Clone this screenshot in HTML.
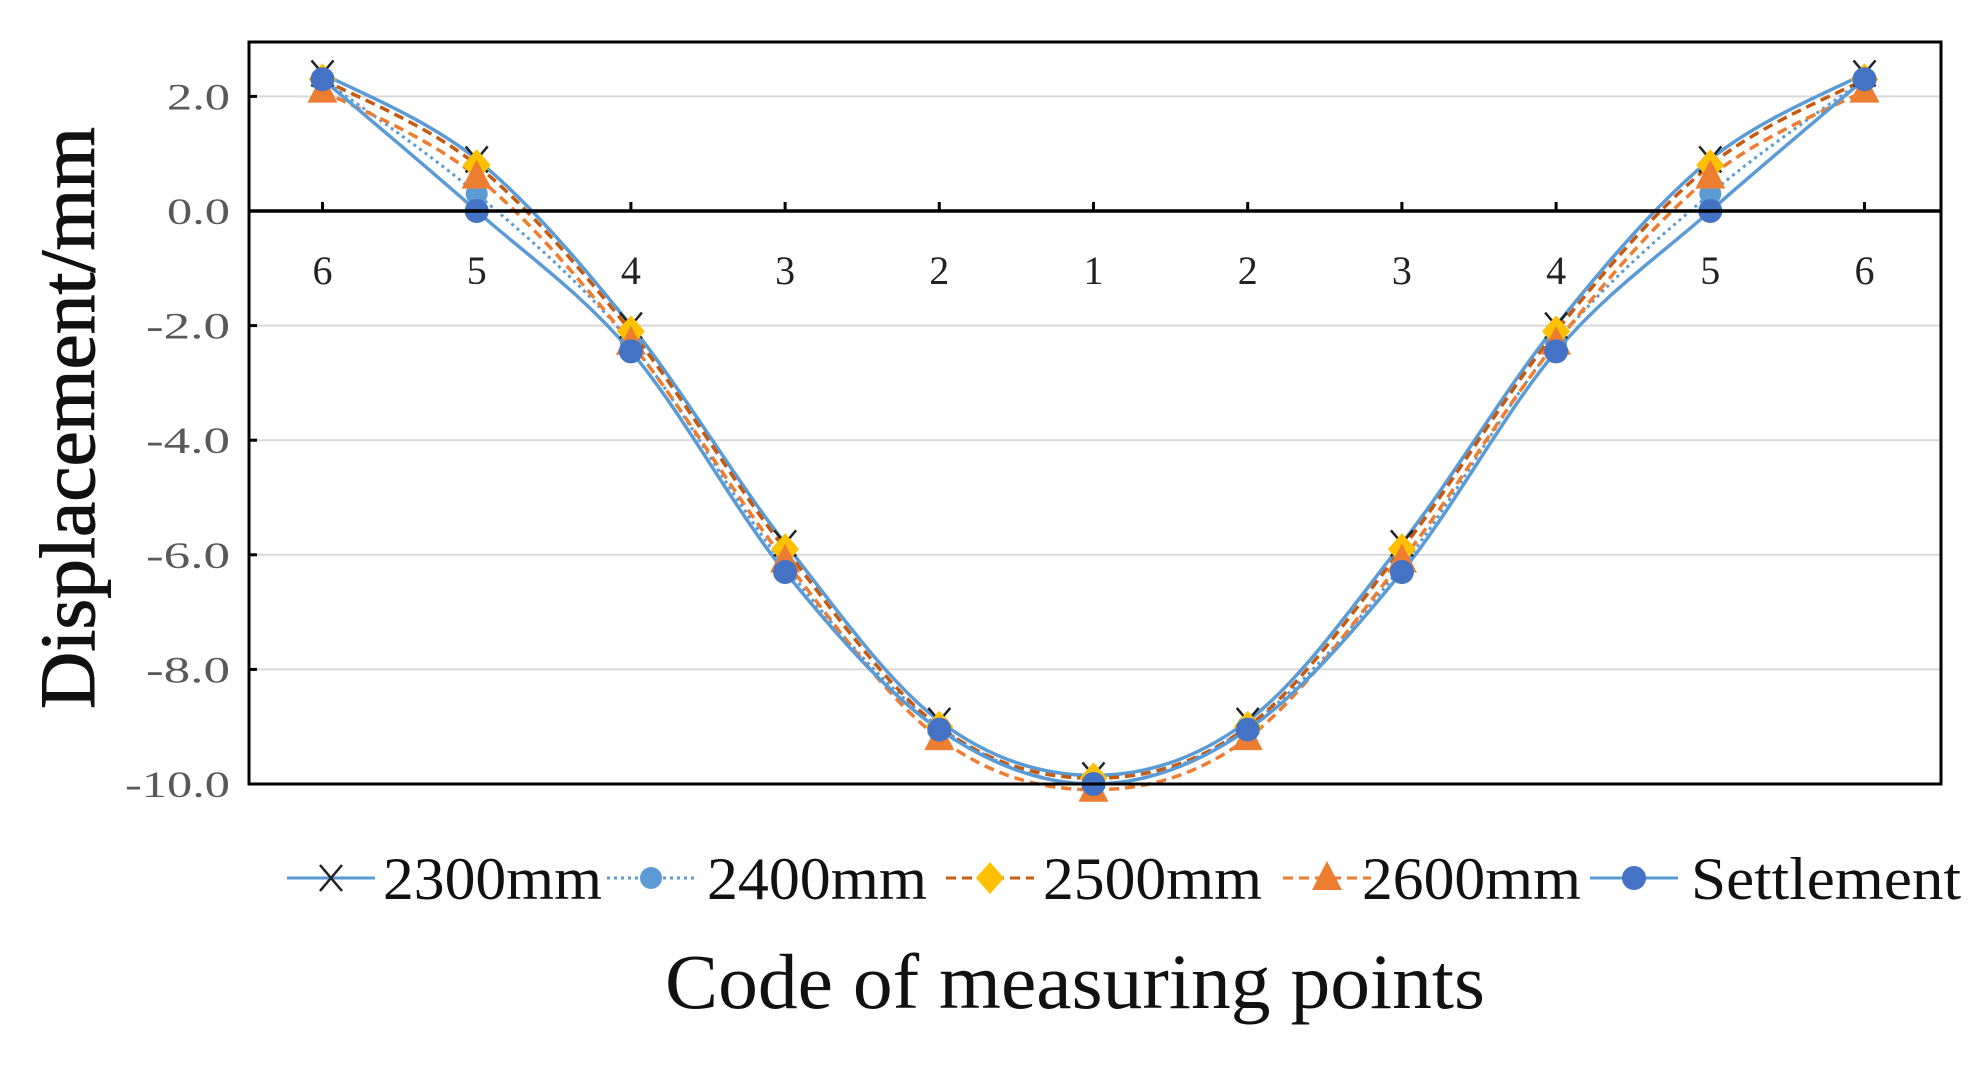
<!DOCTYPE html>
<html><head><meta charset="utf-8"><style>
html,body{margin:0;padding:0;background:#fff;}
svg{display:block;font-family:"Liberation Serif",serif;}
</style></head><body>
<svg id="s" width="1983" height="1083" viewBox="0 0 1983 1083" xmlns="http://www.w3.org/2000/svg"></svg>
<script>
const s=document.getElementById('s');
let h='';
const Y=v=>211-v*57.3, X=i=>322.5+154.2*i;
const L=249,R=1941,T=42,B=784;
[2,-2,-4,-6,-8].forEach(v=>{h+=`<line x1="${L}" x2="${R}" y1="${Y(v)}" y2="${Y(v)}" stroke="#d9d9d9" stroke-width="2"/>`;});
[2,0,-2,-4,-6,-8,-10].forEach(v=>{const t=v.toFixed(1);h+=`<text x="230" y="${Y(v)+13}" font-size="37" fill="#595959" text-anchor="end" textLength="${t.length*21}" lengthAdjust="spacingAndGlyphs">${t}</text>`;
h+=`<line x1="${L}" x2="${L+8}" y1="${Y(v)}" y2="${Y(v)}" stroke="#000" stroke-width="3"/>`;});
const codes=[6,5,4,3,2,1,2,3,4,5,6];
codes.forEach((c,i)=>{h+=`<text x="${X(i)}" y="284" font-size="40" fill="#222" text-anchor="middle">${c}</text>`;
h+=`<line x1="${X(i)}" x2="${X(i)}" y1="${Y(0)}" y2="${Y(0)-9}" stroke="#000" stroke-width="3"/>`;});
function sym(a){return a.concat(a.slice(0,5).reverse());}
const data=[
 {d:sym([2.4,0.9,-2.0,-5.8,-8.9,-9.85]),c:'#5b9bd5',dash:'',w:3.5,m:'x'},
 {d:sym([2.3,0.3,-2.3,-6.2,-9.0,-10]),c:'#5b9bd5',dash:'3,4',w:3,m:'c2'},
 {d:sym([2.3,0.8,-2.1,-5.9,-9.0,-9.9]),c:'#c55a11',dash:'10,6',w:3.5,m:'d'},
 {d:sym([2.1,0.6,-2.3,-6.1,-9.2,-10.1]),c:'#ed7d31',dash:'10,6',w:3.5,m:'t'},
 {d:sym([2.3,0.0,-2.45,-6.3,-9.05,-10.0]),c:'#5b9bd5',dash:'',w:3.5,m:'c'}
];
function path(p){let d=`M${p[0][0]},${p[0][1]}`;for(let i=0;i<p.length-1;i++){const p0=p[i-1]||p[i],p1=p[i],p2=p[i+1],p3=p[i+2]||p2;
const t=6;d+=` C${p1[0]+(p2[0]-p0[0])/t},${p1[1]+(p2[1]-p0[1])/t} ${p2[0]-(p3[0]-p1[0])/t},${p2[1]-(p3[1]-p1[1])/t} ${p2[0]},${p2[1]}`;}return d;}
function marker(m,x,y,sc){sc=sc||1;
 if(m=='x')return `<path d="M${x-11*sc},${y-13*sc}L${x+11*sc},${y+13*sc}M${x+11*sc},${y-13*sc}L${x-11*sc},${y+13*sc}" stroke="#222" stroke-width="2.5"/>`;
 if(m=='c2')return `<circle cx="${x}" cy="${y}" r="${11*sc}" fill="#5b9bd5"/>`;
 if(m=='d')return `<path d="M${x},${y-16*sc}L${x+14*sc},${y}L${x},${y+16*sc}L${x-14*sc},${y}Z" fill="#ffc000"/>`;
 if(m=='t')return `<path d="M${x},${y-17*sc}L${x+15*sc},${y+12*sc}L${x-15*sc},${y+12*sc}Z" fill="#ed7d31"/>`;
 return `<circle cx="${x}" cy="${y}" r="${12*sc}" fill="#4472c4"/>`;}
data.forEach(s=>{const p=s.d.map((v,i)=>[X(i),Y(v)]);h+=`<path d="${path(p)}" fill="none" stroke="${s.c}" stroke-width="${s.w}" ${s.dash?`stroke-dasharray="${s.dash}"`:''}/>`;});
data.forEach(s=>{s.d.forEach((v,i)=>{h+=marker(s.m,X(i),Y(v));});});
h+=`<rect x="${L}" y="${T}" width="${R-L}" height="${B-T}" fill="none" stroke="#000" stroke-width="3"/>`;
h+=`<line x1="${L}" x2="${R}" y1="${Y(0)}" y2="${Y(0)}" stroke="#000" stroke-width="3.5"/>`;
const names=['2300mm','2400mm','2500mm','2600mm','Settlement'];
const lx=[287,607,946,1283,1590];
const tx=[383,707,1043,1362,1691];
const tl=[219,220,219,219,270];
data.forEach((s,i)=>{const x=lx[i],y=878;h+=`<line x1="${x}" x2="${x+88}" y1="${y}" y2="${y}" stroke="${s.c}" stroke-width="3" ${s.dash?`stroke-dasharray="${s.dash}"`:''}/>`;
h+=marker(s.m,x+44,y,1);h+=`<text x="${tx[i]}" y="${y+21}" font-size="60" fill="#111" textLength="${tl[i]}" lengthAdjust="spacingAndGlyphs">${names[i]}</text>`;});
h+=`<text x="1075" y="1008" font-size="78" fill="#111" text-anchor="middle" textLength="820" lengthAdjust="spacingAndGlyphs">Code of measuring points</text>`;
h+=`<text transform="translate(94,418) rotate(-90)" font-size="78" fill="#111" text-anchor="middle" textLength="582" lengthAdjust="spacingAndGlyphs" stroke="#111" stroke-width="1">Displacement/mm</text>`;
s.innerHTML=h;
</script>
</body></html>
